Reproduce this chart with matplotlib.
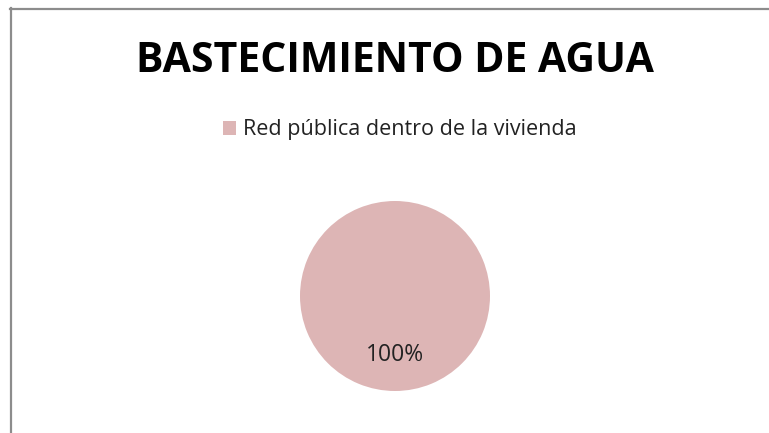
import matplotlib
matplotlib.use("Agg")
import matplotlib.pyplot as plt
from matplotlib.lines import Line2D
from matplotlib import font_manager

categories = ["Red pública dentro de la vivienda"]
values = [100]
title = "BASTECIMIENTO DE AGUA"
colors = ["#DDB5B5"]

names = {f.name for f in font_manager.fontManager.ttflist}
fam = "Liberation Sans Narrow" if "Liberation Sans Narrow" in names else "Open Sans"

W, H = 769, 433
fig = plt.figure(figsize=(W / 100, H / 100), dpi=100)
fig.patch.set_facecolor("white")

# border lines (left and top)
fig.add_artist(Line2D([11 / W, 11 / W], [0, 1 - 8 / H], color="#8c8c8c", lw=1.6, transform=fig.transFigure))
fig.add_artist(Line2D([10 / W, 1], [1 - 9 / H, 1 - 9 / H], color="#8c8c8c", lw=1.6, transform=fig.transFigure))

cx, cy, r = 395, 296, 95
ax = fig.add_axes([(cx - r) / W, (H - cy - r) / H, 2 * r / W, 2 * r / H])
wedges, texts, autotexts = ax.pie(values, colors=colors, startangle=90, counterclock=False,
                                  autopct="%1.0f%%", pctdistance=0.62, radius=1,
                                  textprops=dict(fontsize=16.5, color="#222222", family=fam))
ax.set_xlim(-1, 1)
ax.set_ylim(-1, 1)
ax.set_aspect("equal")
ax.axis("off")

fig.text(395 / W, 1 - 61 / H, title, ha="center", va="center", fontsize=29.5,
         fontweight="bold", family=fam, color="black")

leg = fig.legend(wedges, categories, loc="center", bbox_to_anchor=(400 / W, 1 - 130 / H),
                 frameon=False, prop=dict(family=fam, size=15.5), handlelength=0.6,
                 handleheight=0.6, handletextpad=0.35)
for t in leg.get_texts():
    t.set_color("#222222")

fig.savefig("out.png", dpi=100)
